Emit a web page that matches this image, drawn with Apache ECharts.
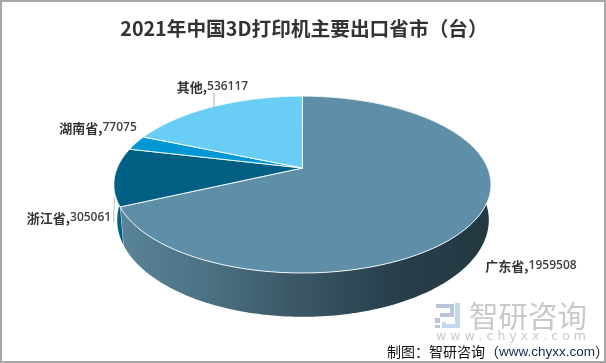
<!DOCTYPE html>
<html><head><meta charset="utf-8">
<style>html,body{margin:0;padding:0;background:#fff}#c{width:606px;height:363px}</style>
<script src="https://cdn.jsdelivr.net/npm/echarts@6/dist/echarts.min.js"></script>
</head><body><div id="c"></div>
<script>
const categories = ['广东省', '浙江省', '湖南省', '其他'];
const seriesValues = [1959508, 305061, 77075, 536117];
const topColors = ['#5f8fa8', '#005f83', '#0098d4', '#69cdf5'];
const labelAnchors = [[531, 266], [69, 218], [98, 128], [212.5, 87]];
const titleText = '2021年中国3D打印机主要出口省市（台）';

const total = seriesValues.reduce((a, b) => a + b, 0);
const topPlane = { cx: 302.4, cy: 168, a: 185.2, b: 85.3, k: -0.1875 };
const basePlane = { cx: 303, cy: 202, a: 182.5, b: 93.3, k: -0.1875 };

function project(plane, theta) {
  const u = Math.sin(theta), v = -Math.cos(theta), d = 1 + plane.k * v;
  return [plane.cx + plane.a * u / d, plane.cy + plane.b * v / d];
}
function bounds(i) {
  let before = 0;
  for (let j = 0; j < i; j++) before += seriesValues[j];
  return [before / total * 2 * Math.PI, (before + seriesValues[i]) / total * 2 * Math.PI];
}
function arc(plane, t0, t1) {
  const n = Math.max(4, Math.ceil((t1 - t0) / 0.02)), pts = [];
  for (let s = 0; s <= n; s++) pts.push(project(plane, t0 + (t1 - t0) * s / n));
  return pts;
}
const wallGradient = new echarts.graphic.LinearGradient(114, 0, 491, 0, [
  { offset: 0, color: '#5a8598' },
  { offset: 0.25, color: '#4b7183' },
  { offset: 0.5, color: '#3a5564' },
  { offset: 0.75, color: '#273f4b' },
  { offset: 1, color: '#233840' }
], true);
const wallFills = [wallGradient, '#005f83', '#0098d4', '#69cdf5'];

function renderWall(params, api) {
  const i = params.dataIndex, [t0, t1] = bounds(i);
  const pts = arc(topPlane, t0, t1).concat(arc(basePlane, t0, t1).reverse());
  return { type: 'group', children: [
    { type: 'polygon', shape: { points: pts }, style: { fill: wallFills[i] } },
    { type: 'line', shape: (function () { const p = project(topPlane, t1), q = project(basePlane, t1);
        return { x1: p[0], y1: p[1], x2: q[0], y2: q[1] }; })(),
      style: { stroke: 'rgba(255,255,255,0.75)', lineWidth: 1 } }
  ] };
}
function renderTop(params, api) {
  const i = params.dataIndex, [t0, t1] = bounds(i);
  const pts = [[topPlane.cx, topPlane.cy]].concat(arc(topPlane, t0, t1));
  return { type: 'polygon', shape: { points: pts },
    style: { fill: topColors[i], stroke: 'rgba(255,255,255,0.9)', lineWidth: 1, lineJoin: 'round' } };
}
function renderLabel(params, api) {
  const i = params.dataIndex;
  return { type: 'text', x: labelAnchors[i][0], y: labelAnchors[i][1],
    style: { text: '{n|' + categories[i] + ',}{v|' + api.value(0) + '}', align: 'center', verticalAlign: 'middle',
      rich: {
        n: { font: 'bold 13px "Noto Sans CJK SC"', fill: '#333' },
        v: { font: '600 12px "Open Sans"', fill: '#404040' }
      } } };
}
const data = seriesValues.map((v, i) => ({ name: categories[i], value: [v] }));
const grey = '#c9c9c9', logoA = '#c4d9ec', logoB = '#b9c5d8';

const chart = echarts.init(document.getElementById('c'), null, { renderer: 'canvas' });
chart.setOption({
  animation: false,
  title: { text: titleText, left: 299, top: 14, textAlign: 'center',
    textStyle: { fontFamily: '"Noto Sans CJK SC"', fontWeight: 'bold', fontSize: 19.7, color: '#333' } },
  graphic: { elements: [
    { type: 'rect', shape: { x: 1, y: 1, width: 604, height: 361 }, style: { fill: null, stroke: '#a6a6a6', lineWidth: 2 }, z: 1 },
    { type: 'line', shape: { x1: 214, y1: 93, x2: 214, y2: 107 }, style: { stroke: '#aaa', lineWidth: 1 }, z: 5 },
    { type: 'line', shape: { x1: 114.5, y1: 198, x2: 113.5, y2: 222 }, style: { stroke: '#bbb', lineWidth: 1 }, z: 5 },
    { type: 'polyline', shape: { points: [[436, 306], [452, 306], [452, 315], [440, 315]] }, style: { fill: null, stroke: logoB, lineWidth: 4 }, z: 5 },
    { type: 'rect', shape: { x: 435, y: 318, width: 5, height: 5 }, style: { fill: logoB }, z: 5 },
    { type: 'rect', shape: { x: 435, y: 325, width: 5, height: 3 }, style: { fill: logoB }, z: 5 },
    { type: 'polyline', shape: { points: [[444, 322], [444, 326], [460, 326]] }, style: { fill: null, stroke: logoA, lineWidth: 4 }, z: 5 },
    { type: 'rect', shape: { x: 455, y: 303, width: 5, height: 22 }, style: { fill: logoA }, z: 5 },
    { type: 'text', x: 469, y: 316, style: { text: '智研咨询', font: '29.5px "Noto Sans CJK SC"', fill: grey, verticalAlign: 'middle', align: 'left' }, z: 5 },
    { type: 'text', x: 511, y: 337, style: { text: 'w w w . c h y x x . c o m', font: '12.5px "DejaVu Sans"', fill: grey, verticalAlign: 'middle', align: 'center' }, z: 5 },
    { type: 'text', x: 609, y: 352, style: { text: '{a|制图：智研咨询（}{b|www.chyxx.com}{a|）}', align: 'right', verticalAlign: 'middle',
      rich: { a: { font: '14px "Noto Sans CJK SC"', fill: '#111' }, b: { font: '13.5px "Liberation Sans"', fill: '#14284f' } } }, z: 6 }
  ] },
  series: [
    { type: 'custom', coordinateSystem: 'none', renderItem: renderWall, data, z: 2, silent: true },
    { type: 'custom', coordinateSystem: 'none', renderItem: renderTop, data, z: 3, silent: true },
    { type: 'custom', coordinateSystem: 'none', renderItem: renderLabel, data, z: 4, silent: true }
  ]
});
</script></body></html>
